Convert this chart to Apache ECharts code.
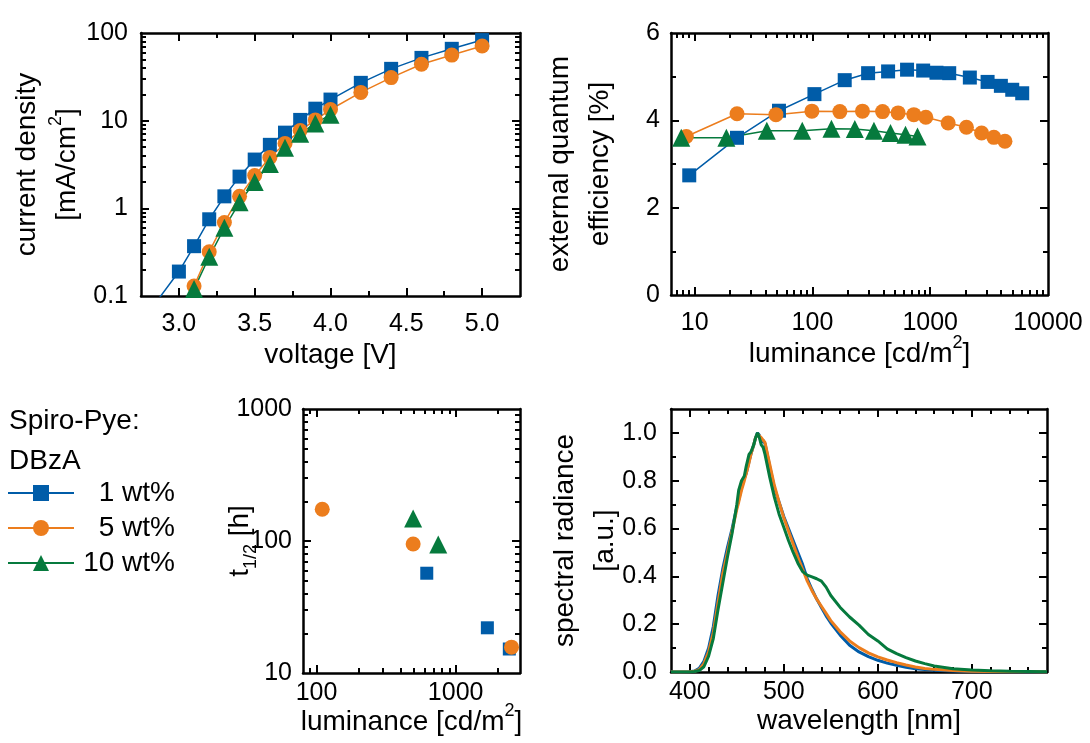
<!DOCTYPE html>
<html>
<head>
<meta charset="utf-8">
<script src="https://cdn.jsdelivr.net/npm/echarts@6/dist/echarts.min.js"></script>
<style>
  html, body { margin: 0; padding: 0; background: #fff; }
  #chart { width: 1090px; height: 743px; }
</style>
</head>
<body>
<div id="chart"></div>
<script>
// ---- series names ----
const seriesNames = ['1 wt%', '5 wt%', '10 wt%'];

// ---- current density vs voltage ----
const jvVoltage1 = [2.8, 3.0, 3.1, 3.2, 3.3, 3.4, 3.5, 3.6, 3.7, 3.8, 3.9, 4.0, 4.2, 4.4, 4.6, 4.8, 5.0];
const jvCurrent1 = [0.065, 0.19, 0.37, 0.75, 1.37, 2.3, 3.6, 5.3, 7.3, 10.2, 13.7, 17.4, 27, 39, 52, 66, 83];
const jvVoltage5 = [3.1, 3.2, 3.3, 3.4, 3.5, 3.6, 3.7, 3.8, 3.9, 4.0, 4.2, 4.4, 4.6, 4.8, 5.0];
const jvCurrent5 = [0.13, 0.32, 0.69, 1.37, 2.37, 3.8, 5.5, 7.7, 10.2, 13.4, 21, 31, 44, 56, 71];
const jvVoltage10 = [3.1, 3.2, 3.3, 3.4, 3.5, 3.6, 3.7, 3.8, 3.9, 4.0];
const jvCurrent10 = [0.12, 0.28, 0.6, 1.17, 2.0, 3.2, 4.9, 7.1, 9.3, 11.7];

// ---- EQE vs luminance ----
const eqeLum1 = [9.0, 22.9, 52, 104, 188, 297, 439, 636, 871, 1130, 1450, 2170, 3070, 3980, 4970, 6040];
const eqeVal1 = [2.74, 3.60, 4.22, 4.60, 4.92, 5.08, 5.12, 5.16, 5.14, 5.09, 5.08, 4.98, 4.88, 4.79, 4.70, 4.62];
const eqeLum5 = [8.5, 22.9, 49, 99, 171, 266, 394, 534, 726, 918, 1420, 2030, 2730, 3470, 4310];
const eqeVal5 = [3.63, 4.15, 4.13, 4.21, 4.20, 4.21, 4.20, 4.17, 4.13, 4.07, 3.94, 3.84, 3.71, 3.61, 3.52];
const eqeLum10 = [7.7, 18.6, 41, 82, 145, 229, 333, 460, 617, 780];
const eqeVal10 = [3.60, 3.60, 3.76, 3.76, 3.81, 3.80, 3.76, 3.71, 3.67, 3.63];

// ---- lifetime vs initial luminance ----
const ltLum1 = [620, 1690, 2430];
const ltTime1 = [57, 22, 15.2];
const ltLum5 = [110, 495, 2520];
const ltTime5 = [174, 95, 15.7];
const ltLum10 = [495, 750];
const ltTime10 = [148, 94];

// ---- electroluminescence spectra ----
const wavelength = [380, 390, 400, 405, 410, 415, 420, 425, 430, 435, 440, 445, 450, 452, 455, 458, 460, 463, 465, 468, 470, 472, 474, 476, 478, 480, 485, 490, 495, 500, 505, 510, 515, 520, 525, 530, 535, 540, 545, 550, 560, 570, 580, 590, 600, 610, 620, 630, 640, 650, 660, 680, 700, 720, 740, 760, 780];
const spec1 = [0, 0, 0.001, 0.004, 0.015, 0.045, 0.10, 0.19, 0.32, 0.43, 0.52, 0.60, 0.69, 0.72, 0.77, 0.81, 0.83, 0.88, 0.91, 0.95, 0.98, 1.0, 0.99, 0.96, 0.97, 0.955, 0.86, 0.77, 0.71, 0.65, 0.60, 0.55, 0.50, 0.45, 0.39, 0.345, 0.305, 0.27, 0.235, 0.205, 0.154, 0.112, 0.084, 0.064, 0.049, 0.037, 0.028, 0.020, 0.014, 0.010, 0.007, 0.004, 0.002, 0.001, 0.001, 0, 0];
const spec5 = [0, 0, 0.001, 0.003, 0.010, 0.035, 0.085, 0.165, 0.29, 0.41, 0.50, 0.59, 0.68, 0.71, 0.76, 0.80, 0.83, 0.875, 0.91, 0.95, 0.98, 0.995, 1.0, 0.98, 0.975, 0.96, 0.87, 0.78, 0.71, 0.645, 0.59, 0.535, 0.48, 0.43, 0.38, 0.34, 0.305, 0.275, 0.245, 0.215, 0.168, 0.13, 0.102, 0.08, 0.063, 0.05, 0.039, 0.029, 0.021, 0.015, 0.011, 0.006, 0.003, 0.002, 0.001, 0.001, 0];
const spec10 = [0, 0, 0, 0.002, 0.006, 0.022, 0.066, 0.14, 0.26, 0.37, 0.48, 0.58, 0.70, 0.76, 0.80, 0.82, 0.86, 0.91, 0.92, 0.95, 0.98, 1.0, 0.98, 0.95, 0.94, 0.91, 0.815, 0.73, 0.66, 0.605, 0.55, 0.50, 0.455, 0.42, 0.405, 0.398, 0.39, 0.38, 0.355, 0.32, 0.27, 0.23, 0.196, 0.157, 0.13, 0.097, 0.077, 0.06, 0.046, 0.035, 0.025, 0.014, 0.008, 0.005, 0.003, 0.002, 0.001];

// ---- tick values ----
const decadeMinors = (decades) => decades.flatMap(d => [2, 3, 4, 5, 6, 7, 8, 9].map(k => +(k * d).toPrecision(6)));

const voltageLabels = [3.0, 3.5, 4.0, 4.5, 5.0];
const voltageMinor = [3.25, 3.75, 4.25, 4.75];
const currentLabels = [0.1, 1, 10, 100];
const currentMajor = [1, 10];
const currentMinor = decadeMinors([0.1, 1, 10]);

const lumLabels = [10, 100, 1000, 10000];
const lumMajor = [10, 100, 1000];
const lumMinor = [7, 8, 9].concat(decadeMinors([10, 100, 1000]));
const eqeLabels = [0, 2, 4, 6];
const eqeMajor = [2, 4];
const eqeMinor = [1, 3, 5];

const ltLumLabels = [100, 1000];
const ltLumMajor = [100, 1000];
const ltLumMinor = [90].concat(decadeMinors([100]), [2000]);
const ltTimeLabels = [10, 100, 1000];
const ltTimeMajor = [100];
const ltTimeMinor = decadeMinors([10, 100]);

const wlLabels = [400, 500, 600, 700];
const wlMajor = [400, 500, 600, 700];
const wlMinor = [420, 440, 460, 480, 520, 540, 560, 580, 620, 640, 660, 680, 720, 740, 760];
const radLabels = [0, 0.2, 0.4, 0.6, 0.8, 1.0];
const radMajor = [0.2, 0.4, 0.6, 0.8, 1.0];
const radMinor = [0.1, 0.3, 0.5, 0.7, 0.9];

// ---- styling ----
const FONT = "'Liberation Sans', Arial, Helvetica, sans-serif";
const COLORS = ['#005ca8', '#ec7d1d', '#067a3d'];
const SYMBOLS = ['rect', 'circle', 'triangle'];
const SYMBOL_SIZES = [14, 15, 18];
const TICK_FS = 25;
const TITLE_FS = 28;

const richText = {
  a: { fontSize: TITLE_FS, lineHeight: 40, fontFamily: FONT, color: '#000' },
  sup: { fontSize: 18, lineHeight: 24, verticalAlign: 'top', fontFamily: FONT, color: '#000' },
  sub: { fontSize: 18, lineHeight: 24, verticalAlign: 'bottom', fontFamily: FONT, color: '#000' }
};

const fmtNum = (digits) => (v) => digits == null ? String(+(+v).toPrecision(6)) : (+v).toFixed(digits);

const xAxes = [];
const yAxes = [];

// Builds a framed axis pair (primary + mirrored side), each with major and minor tick layers.
function buildAxes(list, dim, gridIndex, cfg) {
  const primaryPos = dim === 'x' ? 'bottom' : 'left';
  const mirrorPos = dim === 'x' ? 'top' : 'right';
  const base = {
    gridIndex,
    type: cfg.type,
    min: cfg.min,
    max: cfg.max,
    splitLine: { show: false },
    axisPointer: { show: false }
  };
  if (cfg.type === 'log') base.logBase = 10;
  const start = list.length;
  const line = { show: true, onZero: false, lineStyle: { color: '#000', width: 2.5 } };
  const majorTick = { show: true, inside: true, length: 8, customValues: cfg.major, lineStyle: { color: '#000', width: 2 } };
  const minorTick = { show: true, inside: true, length: 5, customValues: cfg.minor, lineStyle: { color: '#000', width: 2 } };
  list.push(Object.assign({}, base, {
    position: primaryPos,
    axisLine: line,
    axisTick: majorTick,
    axisLabel: {
      show: true, customValues: cfg.labels, margin: cfg.labelMargin,
      color: '#000', fontSize: TICK_FS, fontFamily: FONT, formatter: fmtNum(cfg.digits)
    },
    name: cfg.name,
    nameLocation: 'middle',
    nameGap: cfg.nameGap,
    nameMoveOverlap: false,
    nameTextStyle: { color: '#000', fontSize: TITLE_FS, fontFamily: FONT, lineHeight: 40, rich: richText }
  }));
  list.push(Object.assign({}, base, {
    position: mirrorPos, axisLine: line, axisTick: majorTick, axisLabel: { show: false }
  }));
  list.push(Object.assign({}, base, {
    position: primaryPos, axisLine: { show: false, onZero: false }, axisTick: minorTick, axisLabel: { show: false }
  }));
  list.push(Object.assign({}, base, {
    position: mirrorPos, axisLine: { show: false, onZero: false }, axisTick: minorTick, axisLabel: { show: false }
  }));
  return start;
}

const grids = [
  { left: 141, top: 33, width: 379, height: 263 },
  { left: 671, top: 33, width: 377, height: 262 },
  { left: 303, top: 409, width: 217, height: 264 },
  { left: 671, top: 409, width: 376, height: 263 }
];

// current density vs voltage
const jvX = buildAxes(xAxes, 'x', 0, {
  type: 'value', min: 2.75, max: 5.25, labels: voltageLabels, major: voltageLabels, minor: voltageMinor,
  digits: 1, labelMargin: 16, name: '{a|voltage [V]}', nameGap: 39
});
const jvY = buildAxes(yAxes, 'y', 0, {
  type: 'log', min: 0.1, max: 100, labels: currentLabels, major: currentMajor, minor: currentMinor,
  labelMargin: 13, name: '{a|current density}\n{a|[mA/cm}{sup|2}{a|]}', nameGap: 54
});
// EQE vs luminance
const eqeX = buildAxes(xAxes, 'x', 1, {
  type: 'log', min: 6.3, max: 10000, labels: lumLabels, major: lumMajor, minor: lumMinor,
  labelMargin: 16, name: '{a|luminance [cd/m}{sup|2}{a|]}', nameGap: 39
});
const eqeY = buildAxes(yAxes, 'y', 1, {
  type: 'value', min: 0, max: 6, labels: eqeLabels, major: eqeMajor, minor: eqeMinor,
  labelMargin: 11, name: '{a|external quantum}\n{a|efficiency [%]}', nameGap: 51
});
// lifetime vs luminance
const ltX = buildAxes(xAxes, 'x', 2, {
  type: 'log', min: 80, max: 2900, labels: ltLumLabels, major: ltLumMajor, minor: ltLumMinor,
  labelMargin: 8, name: '{a|luminance [cd/m}{sup|2}{a|]}', nameGap: 29
});
const ltY = buildAxes(yAxes, 'y', 2, {
  type: 'log', min: 10, max: 1000, labels: ltTimeLabels, major: ltTimeMajor, minor: ltTimeMinor,
  labelMargin: 11, name: '{a|t}{sub|1/2}{a| [h]}', nameGap: 43
});
// spectra
const spX = buildAxes(xAxes, 'x', 3, {
  type: 'value', min: 380, max: 780, labels: wlLabels, major: wlMajor, minor: wlMinor,
  labelMargin: 8, name: '{a|wavelength [nm]}', nameGap: 29
});
const spY = buildAxes(yAxes, 'y', 3, {
  type: 'value', min: 0, max: 1.1, labels: radLabels, major: radMajor, minor: radMinor,
  digits: 1, labelMargin: 14, name: '{a|spectral radiance}\n{a|[a.u.]}', nameGap: 46
});

const zip = (xs, ys) => xs.map((x, i) => [x, ys[i]]);

const series = [];
const jvData = [[jvVoltage1, jvCurrent1], [jvVoltage5, jvCurrent5], [jvVoltage10, jvCurrent10]];
const eqeData = [[eqeLum1, eqeVal1], [eqeLum5, eqeVal5], [eqeLum10, eqeVal10]];
const ltData = [[ltLum1, ltTime1], [ltLum5, ltTime5], [ltLum10, ltTime10]];
const specData = [spec1, spec5, spec10];

function markerLine(i, xi, yi, xs, ys) {
  return {
    name: seriesNames[i], type: 'line', xAxisIndex: xi, yAxisIndex: yi,
    data: zip(xs, ys), clip: true,
    symbol: SYMBOLS[i], symbolSize: SYMBOL_SIZES[i],
    itemStyle: { color: COLORS[i], opacity: 1 },
    lineStyle: { color: COLORS[i], width: 1.5 },
    emphasis: { disabled: true }
  };
}

for (let i = 0; i < 3; i++) series.push(markerLine(i, jvX, jvY, jvData[i][0], jvData[i][1]));
for (let i = 0; i < 3; i++) series.push(markerLine(i, eqeX, eqeY, eqeData[i][0], eqeData[i][1]));
for (let i = 0; i < 3; i++) {
  series.push({
    name: seriesNames[i], type: 'scatter', xAxisIndex: ltX, yAxisIndex: ltY,
    data: zip(ltData[i][0], ltData[i][1]),
    symbol: SYMBOLS[i], symbolSize: [13, 15, 18][i],
    itemStyle: { color: COLORS[i], opacity: 1 },
    emphasis: { disabled: true }
  });
}
for (let i = 0; i < 3; i++) {
  series.push({
    name: seriesNames[i], type: 'line', xAxisIndex: spX, yAxisIndex: spY,
    data: zip(wavelength, specData[i]), showSymbol: false, symbol: 'none', clip: true,
    lineStyle: { color: COLORS[i], width: 3 },
    itemStyle: { color: COLORS[i] },
    emphasis: { disabled: true }
  });
}

const option = {
  animation: false,
  backgroundColor: '#fff',
  textStyle: { fontFamily: FONT },
  title: {
    text: 'Spiro-Pye:\nDBzA', left: 9, top: 401, padding: 0,
    textStyle: { fontSize: 28, fontWeight: 'normal', lineHeight: 40, fontFamily: FONT, color: '#000' }
  },
  legend: {
    data: seriesNames, orient: 'vertical', left: 7, top: 479, padding: 0,
    itemWidth: 66, itemHeight: 20, itemGap: 7, selectedMode: false,
    formatter: (n) => '{t|' + n + '}',
    textStyle: {
      color: '#000',
      rich: { t: { width: 96, align: 'right', fontSize: 28, fontFamily: FONT, color: '#000', lineHeight: 30 } }
    }
  },
  grid: grids,
  xAxis: xAxes,
  yAxis: yAxes,
  series
};

const chart = echarts.init(document.getElementById('chart'), null, { renderer: 'canvas' });
chart.setOption(option);
</script>
</body>
</html>
